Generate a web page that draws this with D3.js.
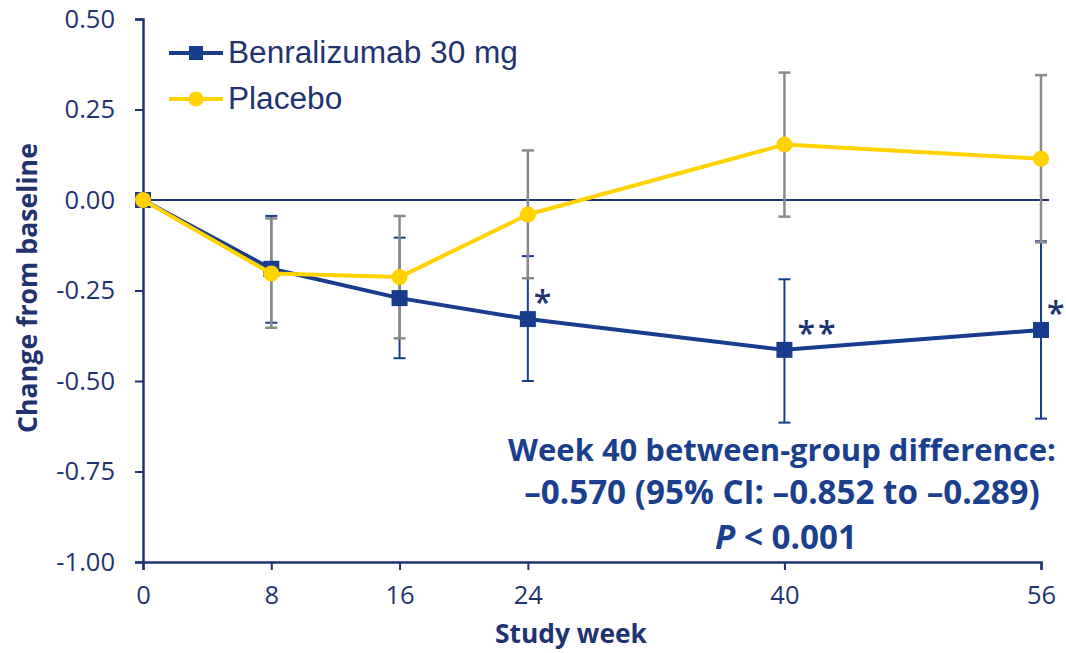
<!DOCTYPE html>
<html>
<head>
<meta charset="utf-8">
<script src="https://cdn.jsdelivr.net/npm/d3@7"></script>
<style>
  html, body { margin: 0; padding: 0; background: #ffffff; }
  svg { display: block; }
</style>
</head>
<body>
<svg id="chart" width="1066" height="653"></svg>
<script>
// ---- data ----
const weeks = [0, 8, 16, 24, 40, 56];
const xTickLabels = ["0", "8", "16", "24", "40", "56"];
const yTicks = [-1.00, -0.75, -0.50, -0.25, 0.00, 0.25, 0.50];

const benraMean  = [0, -0.190, -0.271, -0.329, -0.414, -0.359];
const benraLow   = [0, -0.339, -0.437, -0.500, -0.615, -0.604];
const benraHigh  = [0, -0.044, -0.104, -0.155, -0.219, -0.114];

const placeboMean = [0, -0.203, -0.213, -0.040, 0.153, 0.114];
const placeboLow  = [0, -0.353, -0.382, -0.216, -0.046, -0.117];
const placeboHigh = [0, -0.051, -0.044,  0.137,  0.352,  0.345];

const sigMarks = ["", "", "", "*", "**", "*"];

const seriesNames = ["Benralizumab 30 mg", "Placebo"];
const yTitle = "Change from baseline";
const xTitle = "Study week";
const noteLines = ["Week 40 between-group difference:", "\u20130.570 (95% CI: \u20130.852 to \u20130.289)"];

// ---- styling ----
const NAVY_AXIS = "#1F3371";
const NAVY = "#173D8C";
const YELLOW = "#FFD200";
const GRAY = "#8A8A8A";
const NOTE = "#1A3F8D";
const FONT = "'Open Sans', 'Liberation Sans', sans-serif";

const svg = d3.select("#chart");
const x = d3.scaleLinear().domain([0, 56]).range([143, 1041]);
const y = d3.scaleLinear().domain([-1, 0.5]).range([562, 19]);

function fitWidth(sel, target) {
  const w = sel.node().getComputedTextLength();
  const fs = parseFloat(sel.attr("font-size"));
  sel.attr("font-size", (fs * target / w).toFixed(2));
}

// ---- axes ----
const yAxis = d3.axisLeft(y).tickValues(yTicks).tickFormat(d => d.toFixed(2))
  .tickSize(8).tickSizeOuter(8).tickPadding(20);
const gy = svg.append("g").attr("transform", `translate(${x(0)},0)`).call(yAxis);
gy.select(".domain").attr("stroke", NAVY_AXIS).attr("stroke-width", 2.5);
gy.selectAll(".tick line").attr("stroke", NAVY_AXIS).attr("stroke-width", 2);
gy.selectAll(".tick text").attr("fill", NAVY_AXIS).attr("font-family", FONT).attr("font-size", 25.5);

const xAxis = d3.axisBottom(x).tickValues(weeks).tickFormat((d, i) => xTickLabels[i])
  .tickSize(8).tickSizeOuter(8).tickPadding(16);
const gx = svg.append("g").attr("transform", `translate(0,${y(-1)})`).call(xAxis);
gx.select(".domain").attr("stroke", NAVY_AXIS).attr("stroke-width", 2.5);
gx.selectAll(".tick line").attr("stroke", NAVY_AXIS).attr("stroke-width", 2);
gx.selectAll(".tick text").attr("fill", NAVY_AXIS).attr("font-family", FONT).attr("font-size", 25.5);

// zero line
svg.append("line")
  .attr("x1", x(0)).attr("x2", x(56) + 8)
  .attr("y1", y(0)).attr("y2", y(0))
  .attr("stroke", NAVY_AXIS).attr("stroke-width", 2);

// titles
const yt = svg.append("text")
  .attr("transform", `translate(37,288) rotate(-90)`)
  .attr("text-anchor", "middle")
  .attr("font-family", FONT).attr("font-weight", 700).attr("font-size", 24)
  .attr("fill", NAVY_AXIS).text(yTitle);
fitWidth(yt, 290);

const xt = svg.append("text")
  .attr("x", 571).attr("y", 643)
  .attr("text-anchor", "middle")
  .attr("font-family", FONT).attr("font-weight", 700).attr("font-size", 24)
  .attr("fill", NAVY_AXIS).text(xTitle);
fitWidth(xt, 152);

// ---- error bars ----
function errorBars(low, high, color, width) {
  const g = svg.append("g");
  const cap = 6;
  weeks.forEach((w, i) => {
    if (i === 0) return;
    const cx = x(w);
    g.append("line").attr("x1", cx).attr("x2", cx).attr("y1", y(low[i])).attr("y2", y(high[i]))
      .attr("stroke", color).attr("stroke-width", width);
    [low[i], high[i]].forEach(v => {
      g.append("line").attr("x1", cx - cap).attr("x2", cx + cap).attr("y1", y(v)).attr("y2", y(v))
        .attr("stroke", color).attr("stroke-width", width);
    });
  });
}
errorBars(benraLow, benraHigh, NAVY, 2);
errorBars(placeboLow, placeboHigh, GRAY, 2.5);

// ---- lines ----
const line = d3.line().x((d, i) => x(weeks[i])).y(d => y(d));

svg.append("path").datum(benraMean).attr("d", line)
  .attr("fill", "none").attr("stroke", NAVY).attr("stroke-width", 4).attr("stroke-linejoin", "round");
svg.append("g").selectAll("rect").data(benraMean).join("rect")
  .attr("x", (d, i) => x(weeks[i]) - 8).attr("y", d => y(d) - 8)
  .attr("width", 16).attr("height", 16).attr("fill", NAVY);

svg.append("path").datum(placeboMean).attr("d", line)
  .attr("fill", "none").attr("stroke", YELLOW).attr("stroke-width", 4).attr("stroke-linejoin", "round");
svg.append("g").selectAll("circle").data(placeboMean).join("circle")
  .attr("cx", (d, i) => x(weeks[i])).attr("cy", d => y(d)).attr("r", 8).attr("fill", YELLOW);

// significance marks
svg.append("g").selectAll("text").data(sigMarks).join("text")
  .attr("x", (d, i) => x(weeks[i]) + (d.length > 1 ? 13 : 6))
  .attr("y", (d, i) => y(benraMean[i]) - 5)
  .attr("font-family", FONT).attr("font-weight", 600).attr("font-size", 32)
  .attr("letter-spacing", d => d.length > 1 ? 3 : 0)
  .attr("fill", NAVY_AXIS).text(d => d);

// ---- legend ----
const legend = svg.append("g");
const legY = [53, 99];
const legColors = [NAVY, YELLOW];
let legFont = null;
seriesNames.forEach((name, i) => {
  legend.append("line").attr("x1", 169).attr("x2", 223).attr("y1", legY[i]).attr("y2", legY[i])
    .attr("stroke", legColors[i]).attr("stroke-width", 4);
  if (i === 0) {
    legend.append("rect").attr("x", 196 - 7).attr("y", legY[i] - 7).attr("width", 14).attr("height", 14).attr("fill", NAVY);
  } else {
    legend.append("circle").attr("cx", 196).attr("cy", legY[i]).attr("r", 7.5).attr("fill", YELLOW);
  }
  const t = legend.append("text").attr("x", 228).attr("y", legY[i] + 10)
    .attr("font-family", "'Liberation Sans', Arial, sans-serif").attr("font-size", legFont || 30)
    .attr("fill", NAVY_AXIS).text(name);
  if (i === 0) { fitWidth(t, 290); legFont = t.attr("font-size"); }
});

// ---- annotation ----
const noteX = 782;
const n1 = svg.append("text").attr("x", noteX).attr("y", 461).attr("text-anchor", "middle")
  .attr("font-family", FONT).attr("font-weight", 700).attr("font-size", 28)
  .attr("fill", NOTE).text(noteLines[0]);
fitWidth(n1, 548);
const n2 = svg.append("text").attr("x", noteX).attr("y", 504).attr("text-anchor", "middle")
  .attr("font-family", FONT).attr("font-weight", 700).attr("font-size", 28)
  .attr("fill", NOTE).text(noteLines[1]);
fitWidth(n2, 516);
const n3 = svg.append("text").attr("x", noteX + 4).attr("y", 549).attr("text-anchor", "middle")
  .attr("font-family", FONT).attr("font-weight", 700).attr("font-size", parseFloat(n2.attr("font-size")))
  .attr("fill", NOTE);
n3.append("tspan").attr("font-style", "italic").text("P");
n3.append("tspan").text(" < 0.001");
</script>
</body>
</html>
